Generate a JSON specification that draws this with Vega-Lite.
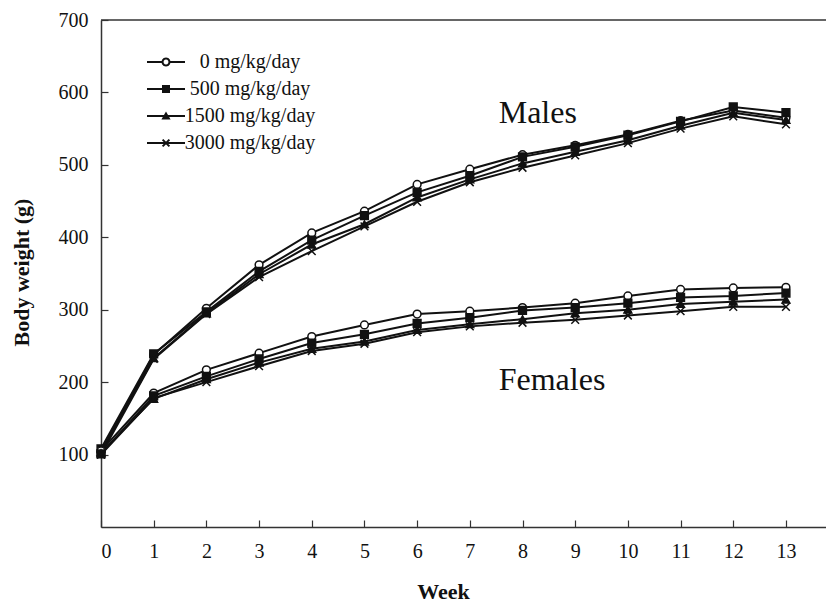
{
  "$schema": "https://vega.github.io/schema/vega-lite/v6.json",
  "autosize": "none",
  "width": 725,
  "height": 507,
  "padding": {"left": 101, "top": 20, "right": 0, "bottom": 75},
  "background": "white",
  "config": {
    "view": {"stroke": null},
    "font": "Liberation Serif",
    "axis": {"grid": false, "domainColor": "#333", "tickColor": "#333", "domainWidth": 1.5, "tickWidth": 1.2, "labelFont": "Liberation Serif", "labelFontSize": 20, "labelColor": "#111", "titleFont": "Liberation Serif", "titleFontSize": 22, "titleFontWeight": "bold", "titleColor": "#111"}
  },
  "data": {"values": [
    {"week":0,"sex":"Males","dose":"0 mg/kg/day","weight":103},{"week":0,"sex":"Males","dose":"500 mg/kg/day","weight":108},{"week":0,"sex":"Males","dose":"1500 mg/kg/day","weight":104},{"week":0,"sex":"Males","dose":"3000 mg/kg/day","weight":100},
    {"week":1,"sex":"Males","dose":"0 mg/kg/day","weight":238},{"week":1,"sex":"Males","dose":"500 mg/kg/day","weight":239},{"week":1,"sex":"Males","dose":"1500 mg/kg/day","weight":233},{"week":1,"sex":"Males","dose":"3000 mg/kg/day","weight":232},
    {"week":2,"sex":"Males","dose":"0 mg/kg/day","weight":302},{"week":2,"sex":"Males","dose":"500 mg/kg/day","weight":297},{"week":2,"sex":"Males","dose":"1500 mg/kg/day","weight":295},{"week":2,"sex":"Males","dose":"3000 mg/kg/day","weight":294},
    {"week":3,"sex":"Males","dose":"0 mg/kg/day","weight":362},{"week":3,"sex":"Males","dose":"500 mg/kg/day","weight":353},{"week":3,"sex":"Males","dose":"1500 mg/kg/day","weight":349},{"week":3,"sex":"Males","dose":"3000 mg/kg/day","weight":345},
    {"week":4,"sex":"Males","dose":"0 mg/kg/day","weight":406},{"week":4,"sex":"Males","dose":"500 mg/kg/day","weight":396},{"week":4,"sex":"Males","dose":"1500 mg/kg/day","weight":390},{"week":4,"sex":"Males","dose":"3000 mg/kg/day","weight":381},
    {"week":5,"sex":"Males","dose":"0 mg/kg/day","weight":436},{"week":5,"sex":"Males","dose":"500 mg/kg/day","weight":430},{"week":5,"sex":"Males","dose":"1500 mg/kg/day","weight":418},{"week":5,"sex":"Males","dose":"3000 mg/kg/day","weight":415},
    {"week":6,"sex":"Males","dose":"0 mg/kg/day","weight":473},{"week":6,"sex":"Males","dose":"500 mg/kg/day","weight":462},{"week":6,"sex":"Males","dose":"1500 mg/kg/day","weight":455},{"week":6,"sex":"Males","dose":"3000 mg/kg/day","weight":449},
    {"week":7,"sex":"Males","dose":"0 mg/kg/day","weight":494},{"week":7,"sex":"Males","dose":"500 mg/kg/day","weight":485},{"week":7,"sex":"Males","dose":"1500 mg/kg/day","weight":480},{"week":7,"sex":"Males","dose":"3000 mg/kg/day","weight":476},
    {"week":8,"sex":"Males","dose":"0 mg/kg/day","weight":514},{"week":8,"sex":"Males","dose":"500 mg/kg/day","weight":511},{"week":8,"sex":"Males","dose":"1500 mg/kg/day","weight":502},{"week":8,"sex":"Males","dose":"3000 mg/kg/day","weight":496},
    {"week":9,"sex":"Males","dose":"0 mg/kg/day","weight":527},{"week":9,"sex":"Males","dose":"500 mg/kg/day","weight":525},{"week":9,"sex":"Males","dose":"1500 mg/kg/day","weight":518},{"week":9,"sex":"Males","dose":"3000 mg/kg/day","weight":513},
    {"week":10,"sex":"Males","dose":"0 mg/kg/day","weight":542},{"week":10,"sex":"Males","dose":"500 mg/kg/day","weight":541},{"week":10,"sex":"Males","dose":"1500 mg/kg/day","weight":534},{"week":10,"sex":"Males","dose":"3000 mg/kg/day","weight":530},
    {"week":11,"sex":"Males","dose":"0 mg/kg/day","weight":561},{"week":11,"sex":"Males","dose":"500 mg/kg/day","weight":560},{"week":11,"sex":"Males","dose":"1500 mg/kg/day","weight":554},{"week":11,"sex":"Males","dose":"3000 mg/kg/day","weight":550},
    {"week":12,"sex":"Males","dose":"0 mg/kg/day","weight":575},{"week":12,"sex":"Males","dose":"500 mg/kg/day","weight":580},{"week":12,"sex":"Males","dose":"1500 mg/kg/day","weight":572},{"week":12,"sex":"Males","dose":"3000 mg/kg/day","weight":567},
    {"week":13,"sex":"Males","dose":"0 mg/kg/day","weight":565},{"week":13,"sex":"Males","dose":"500 mg/kg/day","weight":572},{"week":13,"sex":"Males","dose":"1500 mg/kg/day","weight":562},{"week":13,"sex":"Males","dose":"3000 mg/kg/day","weight":556},
    {"week":0,"sex":"Females","dose":"0 mg/kg/day","weight":105},{"week":0,"sex":"Females","dose":"500 mg/kg/day","weight":101},{"week":0,"sex":"Females","dose":"1500 mg/kg/day","weight":102},{"week":0,"sex":"Females","dose":"3000 mg/kg/day","weight":100},
    {"week":1,"sex":"Females","dose":"0 mg/kg/day","weight":185},{"week":1,"sex":"Females","dose":"500 mg/kg/day","weight":181},{"week":1,"sex":"Females","dose":"1500 mg/kg/day","weight":177},{"week":1,"sex":"Females","dose":"3000 mg/kg/day","weight":178},
    {"week":2,"sex":"Females","dose":"0 mg/kg/day","weight":217},{"week":2,"sex":"Females","dose":"500 mg/kg/day","weight":208},{"week":2,"sex":"Females","dose":"1500 mg/kg/day","weight":204},{"week":2,"sex":"Females","dose":"3000 mg/kg/day","weight":200},
    {"week":3,"sex":"Females","dose":"0 mg/kg/day","weight":240},{"week":3,"sex":"Females","dose":"500 mg/kg/day","weight":232},{"week":3,"sex":"Females","dose":"1500 mg/kg/day","weight":227},{"week":3,"sex":"Females","dose":"3000 mg/kg/day","weight":222},
    {"week":4,"sex":"Females","dose":"0 mg/kg/day","weight":263},{"week":4,"sex":"Females","dose":"500 mg/kg/day","weight":254},{"week":4,"sex":"Females","dose":"1500 mg/kg/day","weight":246},{"week":4,"sex":"Females","dose":"3000 mg/kg/day","weight":243},
    {"week":5,"sex":"Females","dose":"0 mg/kg/day","weight":279},{"week":5,"sex":"Females","dose":"500 mg/kg/day","weight":266},{"week":5,"sex":"Females","dose":"1500 mg/kg/day","weight":256},{"week":5,"sex":"Females","dose":"3000 mg/kg/day","weight":253},
    {"week":6,"sex":"Females","dose":"0 mg/kg/day","weight":294},{"week":6,"sex":"Females","dose":"500 mg/kg/day","weight":281},{"week":6,"sex":"Females","dose":"1500 mg/kg/day","weight":272},{"week":6,"sex":"Females","dose":"3000 mg/kg/day","weight":269},
    {"week":7,"sex":"Females","dose":"0 mg/kg/day","weight":298},{"week":7,"sex":"Females","dose":"500 mg/kg/day","weight":289},{"week":7,"sex":"Females","dose":"1500 mg/kg/day","weight":280},{"week":7,"sex":"Females","dose":"3000 mg/kg/day","weight":277},
    {"week":8,"sex":"Females","dose":"0 mg/kg/day","weight":303},{"week":8,"sex":"Females","dose":"500 mg/kg/day","weight":299},{"week":8,"sex":"Females","dose":"1500 mg/kg/day","weight":287},{"week":8,"sex":"Females","dose":"3000 mg/kg/day","weight":282},
    {"week":9,"sex":"Females","dose":"0 mg/kg/day","weight":309},{"week":9,"sex":"Females","dose":"500 mg/kg/day","weight":303},{"week":9,"sex":"Females","dose":"1500 mg/kg/day","weight":295},{"week":9,"sex":"Females","dose":"3000 mg/kg/day","weight":286},
    {"week":10,"sex":"Females","dose":"0 mg/kg/day","weight":319},{"week":10,"sex":"Females","dose":"500 mg/kg/day","weight":309},{"week":10,"sex":"Females","dose":"1500 mg/kg/day","weight":300},{"week":10,"sex":"Females","dose":"3000 mg/kg/day","weight":292},
    {"week":11,"sex":"Females","dose":"0 mg/kg/day","weight":328},{"week":11,"sex":"Females","dose":"500 mg/kg/day","weight":317},{"week":11,"sex":"Females","dose":"1500 mg/kg/day","weight":308},{"week":11,"sex":"Females","dose":"3000 mg/kg/day","weight":298},
    {"week":12,"sex":"Females","dose":"0 mg/kg/day","weight":330},{"week":12,"sex":"Females","dose":"500 mg/kg/day","weight":319},{"week":12,"sex":"Females","dose":"1500 mg/kg/day","weight":311},{"week":12,"sex":"Females","dose":"3000 mg/kg/day","weight":304},
    {"week":13,"sex":"Females","dose":"0 mg/kg/day","weight":331},{"week":13,"sex":"Females","dose":"500 mg/kg/day","weight":323},{"week":13,"sex":"Females","dose":"1500 mg/kg/day","weight":314},{"week":13,"sex":"Females","dose":"3000 mg/kg/day","weight":304}
  ]},
  "encoding": {
    "x": {"field": "week", "type": "quantitative", "scale": {"domain": [0, 13.76], "nice": false, "zero": false},
      "axis": {"title": "Week", "values": [0,1,2,3,4,5,6,7,8,9,10,11,12,13], "tickSize": -7, "labelPadding": 21, "titleX": 342, "titleY": 71, "titleBaseline": "alphabetic", "titleAnchor": null, "titleAlign": "center"}},
    "y": {"field": "weight", "type": "quantitative", "scale": {"domain": [0, 700], "nice": false},
      "axis": {"title": "Body weight (g)", "values": [100,200,300,400,500,600,700], "tickSize": -7, "labelPadding": 20, "titleX": -80, "titleY": 252, "titleBaseline": "middle", "titleAnchor": null, "titleAlign": "center", "titleAngle": -90}}
  },
  "layer": [
    {
      "transform": [{"filter": "datum.week == 0 && datum.sex == 'Males' && datum.dose == '0 mg/kg/day'"}],
      "mark": {"type": "rule", "color": "#333", "strokeWidth": 1.5},
      "encoding": {"y": {"datum": 700}, "x": {"datum": 0}, "x2": {"datum": 13.76}}
    },
    {
      "mark": {"type": "line", "color": "#111", "strokeWidth": 2},
      "encoding": {"detail": [{"field": "sex"}, {"field": "dose"}]}
    },
    {
      "mark": {"type": "point", "filled": true, "stroke": "#111", "strokeWidth": 1.5, "opacity": 1, "size": 60},
      "encoding": {
        "shape": {"field": "dose", "type": "nominal", "scale": {"domain": ["0 mg/kg/day","500 mg/kg/day","1500 mg/kg/day","3000 mg/kg/day"], "range": ["circle","square","triangle-up","M-1,-1L1,1M1,-1L-1,1"]}, "legend": null},
        "fill": {"field": "dose", "type": "nominal", "scale": {"domain": ["0 mg/kg/day","500 mg/kg/day","1500 mg/kg/day","3000 mg/kg/day"], "range": ["white","#111","#111","#111"]}, "legend": null}
      }
    },
    {
      "mark": {"type": "point", "filled": true, "color": "#111", "opacity": 0},
      "encoding": {
        "shape": {"field": "dose", "type": "nominal",
          "scale": {"domain": ["0 mg/kg/day","500 mg/kg/day","1500 mg/kg/day","3000 mg/kg/day"],
            "range": [
              "M-4.75,-0.25H-0.9V0.25H-4.75ZM0.9,-0.25H4.75V0.25H0.9ZM1.15,0L0.996,0.575L0.575,0.996L0,1.15L-0.575,0.996L-0.996,0.575L-1.15,0L-0.996,-0.575L-0.575,-0.996L0,-1.15L0.575,-0.996L0.996,-0.575ZM0.62,0L0.537,-0.31L0.31,-0.537L0,-0.62L-0.31,-0.537L-0.537,-0.31L-0.62,0L-0.537,0.31L-0.31,0.537L0,0.62L0.31,0.537L0.537,0.31Z",
              "M-4.75,-0.25H4.75V0.25H-4.75ZM-1,-1H1V1H-1Z",
              "M-4.75,-0.25H4.75V0.25H-4.75ZM0,-1.1L1.15,0.9H-1.15Z",
              "M-4.75,-0.25H4.75V0.25H-4.75ZM-0.673,-1.027L1.027,0.673L0.673,1.027L-1.027,-0.673ZM0.673,-1.027L1.027,-0.673L-0.673,1.027L-1.027,0.673Z"
            ]},
          "legend": {"title": null, "orient": "none", "legendX": 55, "legendY": 32, "padding": 0, "symbolSize": 64, "symbolFillColor": "#111", "symbolOpacity": 1, "labelFont": "Liberation Serif", "labelFontSize": 20, "labelColor": "#111", "labelAlign": "center", "labelOffset": 74, "rowPadding": 7, "labelLimit": 300,
            "encode": {"symbols": {"update": {"fill": {"value": "#111"}, "opacity": {"value": 1}, "fillOpacity": {"value": 1}}}}}}
      }
    },
    {
      "transform": [{"filter": "datum.week == 8 && datum.sex == 'Males' && datum.dose == '0 mg/kg/day'"}],
      "mark": {"type": "text", "font": "Liberation Serif", "fontSize": 32, "color": "#111", "align": "center", "baseline": "alphabetic"},
      "encoding": {"x": {"datum": 8.29}, "y": {"datum": 558}, "text": {"field": "sex", "type": "nominal"}}
    },
    {
      "transform": [{"filter": "datum.week == 8 && datum.sex == 'Females' && datum.dose == '0 mg/kg/day'"}],
      "mark": {"type": "text", "font": "Liberation Serif", "fontSize": 32, "color": "#111", "align": "center", "baseline": "alphabetic"},
      "encoding": {"x": {"datum": 8.56}, "y": {"datum": 189}, "text": {"field": "sex", "type": "nominal"}}
    }
  ],
  "resolve": {"scale": {"shape": "independent"}, "legend": {"shape": "independent"}}
}
